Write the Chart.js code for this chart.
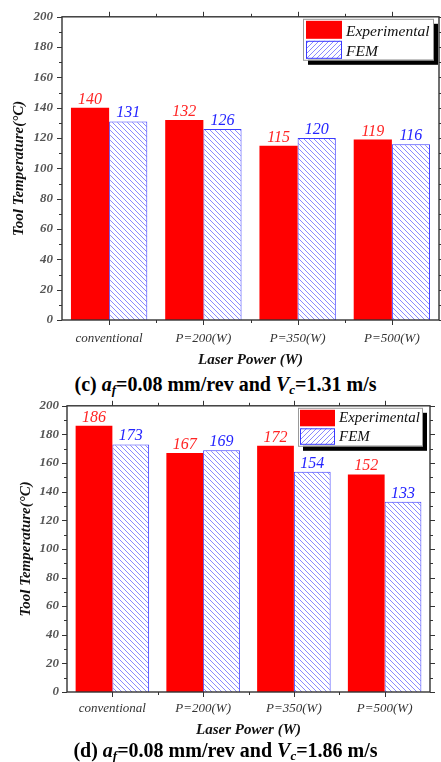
<!DOCTYPE html>
<html lang="en">
<head>
<meta charset="UTF-8">
<title>Tool Temperature vs Laser Power</title>
<script src="https://cdn.jsdelivr.net/npm/chart.js"></script>
<style>
    body { margin: 0; width: 441px; height: 762px; overflow: hidden; background: #fff; position: relative;
           font-family: "Liberation Serif", "Times New Roman", serif; }
    .box { position: absolute; left: 0; width: 441px; }
    .caption { position: absolute; left: 5px; width: 441px; text-align: center; font-weight: bold;
               font-size: 20px; line-height: 20px; color: #000; white-space: nowrap; }
    .caption sub { font-size: 13px; line-height: 0; vertical-align: -3px; }
</style>
</head>
<body>

    <!-- chart (c) -->
    <div class="box" style="top:0; height:372px;">
        <canvas id="chartC" width="441" height="372"></canvas>
    </div>
    <div class="caption" style="top:374px;">(c) <i>a<sub>f</sub></i>=0.08 mm/rev and <i>V<sub>c</sub></i>=1.31 m/s</div>

    <!-- chart (d) -->
    <div class="box" style="top:390px; height:352px;">
        <canvas id="chartD" width="441" height="352"></canvas>
    </div>
    <div class="caption" style="top:740px;">(d) <i>a<sub>f</sub></i>=0.08 mm/rev and <i>V<sub>c</sub></i>=1.86 m/s</div>

<script>
    // data
    const categories = ['conventional', 'P=200(W)', 'P=350(W)', 'P=500(W)'];
    const expC = [140, 132, 115, 119];
    const femC = [131, 126, 120, 116];
    const expD = [186, 167, 172, 152];
    const femD = [173, 169, 154, 133];
    const yMin = 0, yMax = 200, yStep = 20, yMinor = 10;

    const serif = '"Liberation Serif", "Times New Roman", serif';

    // diagonal hatch for the FEM bars
    function hatch(ctx, back) {
        const s = 5;
        const tile = document.createElement('canvas');
        tile.width = s; tile.height = s;
        const t = tile.getContext('2d');
        t.fillStyle = '#fff';
        t.fillRect(0, 0, s, s);
        t.strokeStyle = '#8a8aff';
        t.lineWidth = 1;
        t.beginPath();
        if (back) {
            t.moveTo(-1, -1); t.lineTo(s + 1, s + 1);
            t.moveTo(-1, s - 1); t.lineTo(1, s + 1);
            t.moveTo(s - 1, -1); t.lineTo(s + 1, 1);
        } else {
            t.moveTo(-1, s + 1); t.lineTo(s + 1, -1);
            t.moveTo(-1, 1); t.lineTo(1, -1);
            t.moveTo(s - 1, s + 1); t.lineTo(s + 1, s - 1);
        }
        t.stroke();
        return ctx.createPattern(tile, 'repeat');
    }

    // frame, ticks, value labels and the shadowed legend
    const framePlugin = {
        id: 'frame',
        afterDatasetsDraw(chart) {
            const ctx = chart.ctx;
            ctx.save();
            ctx.font = 'italic 16px ' + serif;
            ctx.textAlign = 'center';
            ctx.textBaseline = 'alphabetic';
            chart.data.datasets.forEach((ds, i) => {
                ctx.fillStyle = ds.labelColor;
                chart.getDatasetMeta(i).data.forEach((bar, j) => {
                    ctx.fillText(ds.data[j], bar.x, bar.y - 4);
                });
            });
            ctx.restore();
        },
        afterDraw(chart, args, opts) {
            const ctx = chart.ctx;
            const a = chart.chartArea;
            const xs = chart.scales.x, ys = chart.scales.y;
            ctx.save();
            ctx.strokeStyle = '#333';
            ctx.lineWidth = 1.4;
            ctx.strokeRect(a.left, a.top, a.right - a.left, a.bottom - a.top);

            ctx.lineWidth = 1;
            ctx.beginPath();
            for (let v = yMin; v <= yMax; v += yMinor) {
                const py = Math.round(ys.getPixelForValue(v)) + 0.5;
                const len = v % yStep === 0 ? 5 : 3;
                ctx.moveTo(a.left - len, py); ctx.lineTo(a.left, py);
                ctx.moveTo(a.right, py); ctx.lineTo(a.right + len, py);
            }
            categories.forEach((c, i) => {
                const px = Math.round(xs.getPixelForValue(i)) + 0.5;
                ctx.moveTo(px, a.bottom); ctx.lineTo(px, a.bottom + 5);
                ctx.moveTo(px, a.top - 5); ctx.lineTo(px, a.top);
                if (i > 0) {
                    const bx = Math.round((xs.getPixelForValue(i - 1) + xs.getPixelForValue(i)) / 2) + 0.5;
                    ctx.moveTo(bx, a.bottom); ctx.lineTo(bx, a.bottom + 3);
                    ctx.moveTo(bx, a.top - 3); ctx.lineTo(bx, a.top);
                }
            });
            ctx.stroke();

            // legend
            const L = opts.legend;
            const bx = a.right - L.right - L.w, by = a.top + L.top;
            ctx.fillStyle = '#000';
            ctx.fillRect(bx + 5, by + 5, L.w, L.h);
            ctx.fillStyle = '#fff';
            ctx.fillRect(bx, by, L.w, L.h);
            ctx.strokeStyle = '#999';
            ctx.lineWidth = 1;
            ctx.strokeRect(bx + 0.5, by + 0.5, L.w, L.h);

            const ds = chart.data.datasets;
            ctx.fillStyle = ds[0].backgroundColor;
            ctx.fillRect(bx + L.sx, by + 2, L.sw, L.sh);
            ctx.fillStyle = hatch(ctx, false);
            ctx.fillRect(bx + L.sx, by + L.sh + 4, L.sw, L.sh);
            ctx.strokeStyle = '#3a3aff';
            ctx.strokeRect(bx + L.sx + 0.5, by + L.sh + 4.5, L.sw - 1, L.sh - 1);

            ctx.fillStyle = '#111';
            ctx.font = 'italic ' + L.font + 'px ' + serif;
            ctx.textAlign = 'left';
            ctx.fillText(ds[0].label, bx + L.sx + L.sw + 4, by + L.b1);
            ctx.fillText(ds[1].label, bx + L.sx + L.sw + 4, by + L.b2);
            ctx.restore();
        }
    };

    function buildChart(id, exp, fem, lay) {
        const ctx = document.getElementById(id).getContext('2d');
        return new Chart(ctx, {
            type: 'bar',
            data: {
                labels: categories,
                datasets: [{
                    label: 'Experimental',
                    data: exp,
                    backgroundColor: '#ff0000',
                    borderWidth: 0,
                    labelColor: '#ff2424'
                }, {
                    label: 'FEM',
                    data: fem,
                    backgroundColor: hatch(ctx, true),
                    borderColor: '#3a3aff',
                    borderWidth: 1,
                    labelColor: '#2424ff'
                }]
            },
            options: {
                responsive: false,
                animation: false,
                devicePixelRatio: 1,
                categoryPercentage: 0.81,
                barPercentage: 1.0,
                layout: { padding: { top: lay.top, right: lay.right, left: 0, bottom: 3 } },
                plugins: {
                    legend: { display: false },
                    tooltip: { enabled: false },
                    frame: { legend: lay.legend }
                },
                scales: {
                    x: {
                        grid: { display: false, drawTicks: false },
                        border: { display: false },
                        ticks: { color: '#333', padding: lay.xp, font: { family: serif, size: 13, style: 'italic' } },
                        title: { display: true, text: 'Laser Power (W)', color: '#111', padding: { top: 0, bottom: 0 },
                                 font: { family: serif, size: 15, style: 'italic', weight: 'bold' } },
                        afterFit: s => { s.height = lay.xh; }
                    },
                    y: {
                        min: yMin, max: yMax,
                        grid: { display: false, drawTicks: false },
                        border: { display: false },
                        ticks: { stepSize: yStep, color: '#555', padding: lay.tp,
                                 font: { family: serif, size: 13, style: 'italic', weight: 'bold' } },
                        title: { display: true, text: 'Tool Temperature(°C)', color: '#111', padding: { top: lay.tt, bottom: 0 },
                                 font: { family: serif, size: 15, style: 'italic', weight: 'bold' } },
                        afterFit: s => { s.width = lay.yw; }
                    }
                }
            },
            plugins: [framePlugin]
        });
    }

    buildChart('chartC', expC, femC, {
        top: 14, right: 2, xh: 49, yw: 62, tp: 9, tt: 10, xp: 11,
        legend: { right: 6, top: 2, w: 130, h: 41, sx: 3, sw: 36, sh: 18, b1: 17, b2: 37, font: 15.5 }
    });
    buildChart('chartD', expD, femD, {
        top: 13, right: 11, xh: 47, yw: 67, tp: 8, tt: 17, xp: 9,
        legend: { right: 8, top: 2, w: 124, h: 38, sx: 2, sw: 35, sh: 16.5, b1: 14, b2: 33, font: 15 }
    });
</script>
</body>
</html>
